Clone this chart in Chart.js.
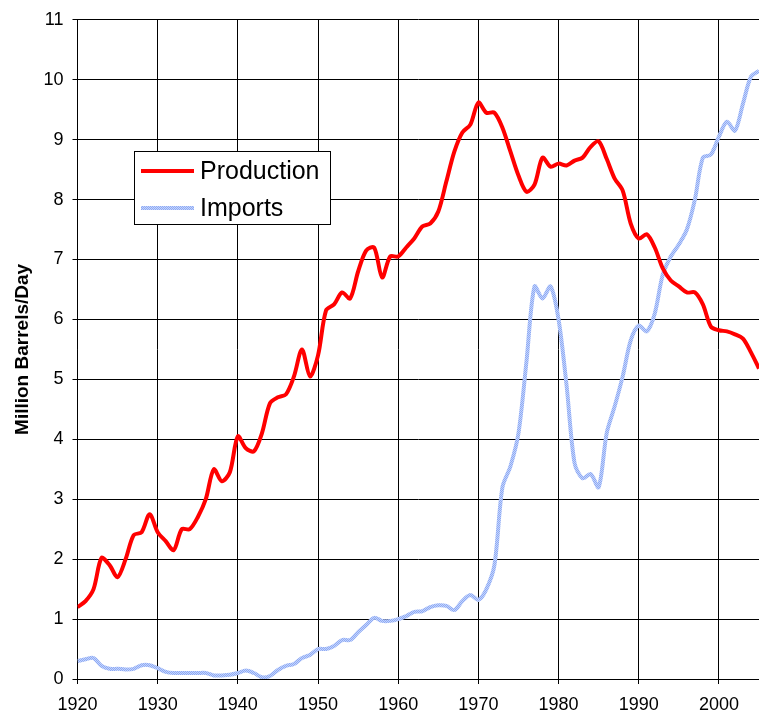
<!DOCTYPE html>
<html>
<head>
<meta charset="utf-8">
<script src="https://cdn.jsdelivr.net/npm/chart.js@4/dist/chart.umd.min.js"></script>
<style>
  body { margin: 0; background: #fff; }
</style>
</head>
<body>
<canvas id="oilChart" width="759" height="714"></canvas>
<script>
// US crude oil production vs imports, million barrels per day
const years = [
  1920, 1921, 1922, 1923, 1924, 1925, 1926, 1927, 1928, 1929,
  1930, 1931, 1932, 1933, 1934, 1935, 1936, 1937, 1938, 1939,
  1940, 1941, 1942, 1943, 1944, 1945, 1946, 1947, 1948, 1949,
  1950, 1951, 1952, 1953, 1954, 1955, 1956, 1957, 1958, 1959,
  1960, 1961, 1962, 1963, 1964, 1965, 1966, 1967, 1968, 1969,
  1970, 1971, 1972, 1973, 1974, 1975, 1976, 1977, 1978, 1979,
  1980, 1981, 1982, 1983, 1984, 1985, 1986, 1987, 1988, 1989,
  1990, 1991, 1992, 1993, 1994, 1995, 1996, 1997, 1998, 1999,
  2000, 2001, 2002, 2003, 2004, 2005
];

const production = [
  1.2, 1.3, 1.5, 2.02, 1.9, 1.7, 2.0, 2.4, 2.45, 2.75,
  2.45, 2.3, 2.15, 2.5, 2.5, 2.7, 3.0, 3.5, 3.3, 3.45,
  4.05, 3.85, 3.8, 4.1, 4.6, 4.7, 4.75, 5.05, 5.5, 5.05,
  5.4, 6.15, 6.25, 6.45, 6.35, 6.8, 7.15, 7.2, 6.7, 7.05,
  7.05, 7.2, 7.35, 7.55, 7.6, 7.8, 8.3, 8.8, 9.12, 9.25,
  9.62, 9.45, 9.45, 9.2, 8.8, 8.4, 8.13, 8.25, 8.7, 8.55,
  8.6, 8.57, 8.65, 8.7, 8.88, 8.97, 8.68, 8.35, 8.15, 7.6,
  7.35, 7.42, 7.2, 6.85, 6.65, 6.55, 6.45, 6.45, 6.25, 5.88,
  5.82, 5.8, 5.75, 5.68, 5.45, 5.18
];

const imports = [
  0.3, 0.33, 0.35, 0.22, 0.17, 0.17, 0.16, 0.17, 0.23, 0.23,
  0.18, 0.12, 0.1, 0.1, 0.1, 0.1, 0.1, 0.06, 0.06, 0.07,
  0.1, 0.14, 0.1, 0.03, 0.05, 0.15, 0.22, 0.25, 0.35, 0.4,
  0.5, 0.5, 0.55, 0.65, 0.65, 0.78, 0.9, 1.02, 0.97, 0.97,
  1.0, 1.05, 1.12, 1.13, 1.2, 1.23, 1.22, 1.15, 1.3, 1.4,
  1.32, 1.5, 1.9, 3.2, 3.55, 4.1, 5.3, 6.55, 6.35, 6.55,
  6.0, 4.9, 3.6, 3.35, 3.42, 3.2, 4.1, 4.55, 5.05, 5.65,
  5.9, 5.8, 6.1, 6.75, 7.05, 7.25, 7.5, 8.0, 8.7, 8.75,
  9.05, 9.3, 9.15, 9.6, 10.05, 10.15
];

const seriesNames = ['Production', 'Imports'];
const yTitle = 'Million Barrels/Day';

const tickFont = { family: '"Liberation Sans", Arial, sans-serif', size: 18 };

// textured light blue used for the imports line
function makeImportsPattern(ctx) {
  const pc = document.createElement('canvas');
  pc.width = 2;
  pc.height = 2;
  const p = pc.getContext('2d');
  p.fillStyle = '#c4d4fc';
  p.fillRect(0, 0, 2, 2);
  p.fillStyle = '#8eaaf4';
  p.fillRect(0, 0, 1, 1);
  p.fillRect(1, 1, 1, 1);
  return ctx.createPattern(pc, 'repeat');
}

// boxed legend sitting inside the plot area
const legendBox = {
  id: 'legendBox',
  afterDatasetsDraw(chart) {
    const ctx = chart.ctx;
    ctx.save();
    ctx.fillStyle = '#fff';
    ctx.fillRect(134.5, 151.5, 196, 73);
    ctx.strokeStyle = '#000';
    ctx.lineWidth = 1;
    ctx.strokeRect(134.5, 151.5, 196, 73);
    chart.data.datasets.forEach((ds, i) => {
      const y = 171 + i * 37;
      ctx.strokeStyle = ds.borderColor;
      ctx.lineWidth = 4;
      ctx.beginPath();
      ctx.moveTo(141, y);
      ctx.lineTo(194, y);
      ctx.stroke();
      ctx.fillStyle = '#000';
      ctx.font = '25px "Liberation Sans", Arial, sans-serif';
      ctx.textBaseline = 'middle';
      ctx.fillText(ds.label, 200, y + 1);
    });
    ctx.restore();
  }
};

function initOilChart() {
  const canvas = document.getElementById('oilChart');
  const ctx = canvas.getContext('2d');

  const toPoints = (vals) => years.map((yr, i) => ({ x: yr, y: vals[i] }));

  new Chart(ctx, {
    type: 'line',
    data: {
      datasets: [
        {
          label: seriesNames[0],
          data: toPoints(production),
          borderColor: '#ff0000',
          borderWidth: 4,
          pointRadius: 0,
          tension: 0.3
        },
        {
          label: seriesNames[1],
          data: toPoints(imports),
          borderColor: makeImportsPattern(ctx),
          borderWidth: 4,
          pointRadius: 0,
          tension: 0.3
        }
      ]
    },
    options: {
      responsive: false,
      animation: false,
      layout: { padding: { top: 17, right: 0, left: 0, bottom: 0 } },
      plugins: {
        legend: { display: false },
        tooltip: { enabled: false }
      },
      scales: {
        x: {
          type: 'linear',
          min: 1920,
          max: 2005,
          afterFit: (s) => { s.height = 35; },
          grid: { color: '#000', lineWidth: 1, tickLength: 5 },
          border: { color: '#000', width: 1 },
          ticks: {
            stepSize: 10,
            includeBounds: false,
            color: '#000',
            font: tickFont,
            padding: 10,
            maxRotation: 0,
            callback: (v) => String(v)
          }
        },
        y: {
          min: 0,
          max: 11,
          afterFit: (s) => { s.width = 77.5; },
          grid: { color: '#000', lineWidth: 1, tickLength: 5 },
          border: { color: '#000', width: 1 },
          ticks: {
            stepSize: 1,
            color: '#000',
            font: tickFont,
            padding: 9
          },
          title: {
            display: true,
            text: yTitle,
            color: '#000',
            font: { family: '"Liberation Sans", Arial, sans-serif', size: 19, weight: 'bold' },
            padding: { top: 11, bottom: 0 }
          }
        }
      }
    },
    plugins: [legendBox]
  });
}

initOilChart();
</script>
</body>
</html>
